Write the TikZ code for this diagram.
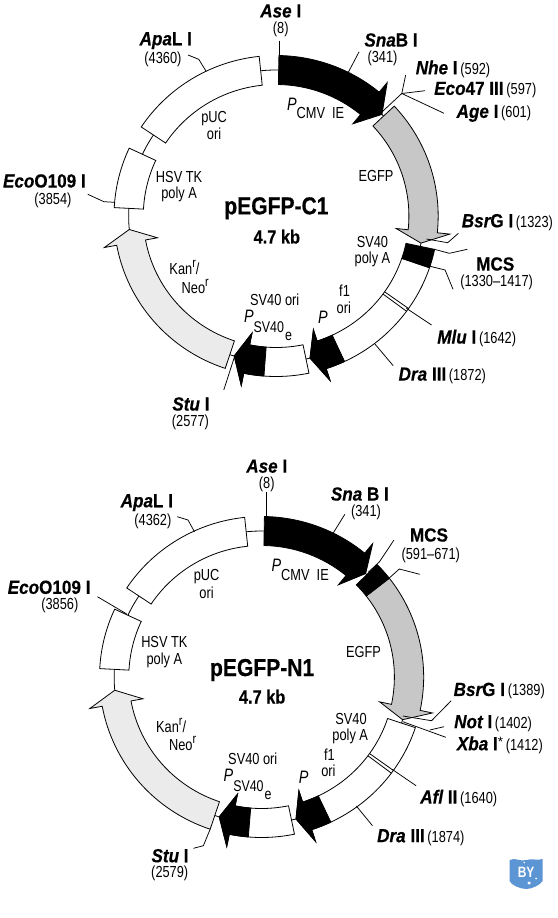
\documentclass[tikz,border=0pt]{standalone}
\usepackage{fontspec}
\setmainfont{Liberation Sans}
\newfontfamily\smf[FakeStretch=.8]{Liberation Sans}
\newfontfamily\bdf[FakeStretch=.9,FakeBold=0.4]{Liberation Sans}
\newfontfamily\ttlf[FakeStretch=.86,FakeBold=0.5]{Liberation Sans}
\newcommand\numf{\smf\fontsize{16}{16}\selectfont}
\newcommand\sitef{\bdf\fontsize{19}{19}\selectfont\bfseries}
\newcommand\subf{\smf\fontsize{15.5}{15.5}\selectfont}
\newcommand\pf{\smf\fontsize{18}{18}\selectfont\itshape}
\newcommand\rsite[2]{{\sitef{\itshape #1}#2}}
\newcommand\supr[1]{\raisebox{.42em}{\fontsize{13.5}{13.5}\selectfont #1}}
\newcommand\rin{131.5}
\newcommand\rout{160.5}
\newcommand\rmid{146}
\newcommand\wi{119.5}
\newcommand\wo{173}
% plain band: from angle #1 to angle #2, fill #3
\newcommand\bandseg[3]{\filldraw[fill=#3,ring] (#1:\rout) arc[start angle=#1,end angle=#2,radius=\rout] -- (#2:\rin) arc[start angle=#2,end angle=#1,radius=\rin] -- cycle;}
% arrow: tail #1, head base #2, tip #3, fill #4
\newcommand\arrowseg[4]{\filldraw[fill=#4,ring] (#1:\rout) arc[start angle=#1,end angle=#2,radius=\rout] -- (#2:\wo) -- (#3:\rmid) -- (#2:\wi) -- (#2:\rin) arc[start angle=#2,end angle=#1,radius=\rin] -- cycle;}
\tikzset{
  ring/.style={draw=black,line width=0.8pt,line join=miter},
  lead/.style={draw=black,line width=0.75pt},
  lab/.style={font=\numf,inner sep=0pt,text=black,align=center},
  sitelab/.style={inner sep=0pt,text=black},
  pitalic/.style={inner sep=0pt,text=black,font=\pf},
  promoter/.style={inner sep=0pt,text=black,anchor=base west},
  title/.style={inner sep=0pt,font=\ttlf\fontsize{24.5}{24.5}\selectfont\bfseries},
  sizelab/.style={inner sep=0pt,font=\ttlf\fontsize{19}{19}\selectfont\bfseries},
}
\begin{document}
\begin{tikzpicture}[x=1.0743pt,y=1pt]
\useasboundingbox (0,0) rectangle (519.4,-918);
\fill[white] (0,0) rectangle (519.4,-918);
% ---------------- pEGFP-C1 ----------------
\begin{scope}[shift={(257,-216)},xscale=.94]
 \draw[ring] (0,0) circle[radius=\rmid];
 \bandseg{96}{146.3}{white}
 \bandseg{155}{177}{white}
 \arrowseg{251.7}{190.5}{185.3}{black!8}
 \arrowseg{281.7}{258.5}{253.5}{white}
 \filldraw[fill=black,ring] (265.7:\rout) arc[start angle=265.7,end angle=258.5,radius=\rout] -- (258.5:\wo) -- (253.5:\rmid) -- (258.5:\wi) -- (258.5:\rin) arc[start angle=258.5,end angle=265.7,radius=\rin] -- cycle;
 \arrowseg{341.2}{288}{283.3}{white}
 \filldraw[fill=black,ring] (295:\rout) arc[start angle=295,end angle=288,radius=\rout] -- (288:\wo) -- (283.3:\rmid) -- (288:\wi) -- (288:\rin) arc[start angle=288,end angle=295,radius=\rin] -- cycle;
 \bandseg{341.2}{348}{black}
 \arrowseg{43.2}{-6}{-10.7}{black!22}
 \arrowseg{89}{50.5}{44.1}{black}
 \draw[ring] (323.6:\rin) -- (323.6:\rout);
 \draw[ring] (324.8:\rin) -- (324.8:\rout);
\end{scope}
% restriction-site leaders, C1
\coordinate (c1) at (259.7,-40.7); \coordinate (c2) at (259.7,-56);
\draw[lead] (c1) -- (c2);
\coordinate (c3) at (334.3,-51.7); \coordinate (c4) at (324,-72.7);
\draw[lead] (c3) -- (c4);
\coordinate (hub) at (374,-93.5); \coordinate (hubb) at (354,-113.5);
\coordinate (nhe) at (377.6,-75); \coordinate (eco) at (395.6,-90.7); \coordinate (age) at (413.3,-113.3);
\draw[lead] (hubb) -- (hub) -- (nhe); \draw[lead] (hub) -- (eco); \draw[lead] (hub) -- (age);
\coordinate (c5) at (175,-55); \coordinate (c6) at (185,-59.3); \coordinate (c7) at (191.7,-71);
\draw[lead] (c5) -- (c6) -- (c7);
\coordinate (c8) at (81.7,-194.3); \coordinate (c9) at (96.7,-201.7); \coordinate (c10) at (106.7,-202.3);
\draw[lead] (c8) -- (c9) -- (c10);
\coordinate (c11) at (426.7,-233.3); \coordinate (c12) at (416.7,-242.7); \coordinate (c13) at (397,-239);
\draw[lead] (c11) -- (c12) -- (c13);
\coordinate (c14) at (435,-249.3); \coordinate (c15) at (418.3,-253.3); \coordinate (c16) at (404.3,-249.3);
\draw[lead] (c14) -- (c15) -- (c16);
\coordinate (c17) at (421.7,-289.3); \coordinate (c18) at (414.3,-270); \coordinate (c19) at (399.3,-266);
\draw[lead] (c17) -- (c18) -- (c19);
\coordinate (c20) at (401.7,-325); \coordinate (c21) at (378.3,-308.3);
\draw[lead] (c20) -- (c21);
\coordinate (c22) at (366,-365.7); \coordinate (c23) at (349,-344);
\draw[lead] (c22) -- (c23);
\coordinate (c24) at (208.3,-390); \coordinate (c25) at (218.3,-356.7);
\draw[lead] (c24) -- (c25);
% site labels, C1
\node[sitelab] (tAse) at (261.3,-11) {\rsite{Ase}{ I}};
\node[lab] (nAse) at (261.3,-29.8) {(8)};
\node[sitelab] (tApa) at (154.3,-40.7) {\rsite{Apa}{L I}};
\node[lab] (nApa) at (151.7,-59.5) {(4360)};
\node[sitelab] (tSna) at (364,-40) {\rsite{Sna}{B I}};
\node[lab] (nSna) at (356,-58.8) {(341)};
\node[sitelab] (tNhe) at (421.7,-69) {\rsite{Nhe}{ I} {\numf (592)}};
\node[sitelab] (tEco) at (451.7,-90) {\rsite{Eco}{47 III} {\numf (597)}};
\node[sitelab] (tAge) at (459.7,-113.3) {\rsite{Age}{ I} {\numf (601)}};
\node[sitelab] (tEO) at (41.3,-181) {\rsite{Eco}{O109 I}};
\node[lab] (nEO) at (49.3,-200) {(3854)};
\node[sitelab] (tBsr) at (472.3,-222.3) {\rsite{Bsr}{G I} {\numf (1323)}};
\node[sitelab] (tMCS) at (461,-264) {\rsite{}{MCS}};
\node[lab] (nMCS) at (462.3,-282) {(1330–1417)};
\node[sitelab] (tMlu) at (443.7,-338.3) {\rsite{Mlu}{ I} {\numf (1642)}};
\node[sitelab] (tDra) at (411.7,-375.7) {\rsite{Dra}{ III} {\numf (1872)}};
\node[sitelab] (tStu) at (177.7,-404) {\rsite{Stu}{ I}};
\node[lab] (nStu) at (177.3,-422.8) {(2577)};
% feature labels, C1
\node[lab] (pUC) at (199.3,-118.3) {pUC};
\node[lab] (ori) at (199.3,-133.5) {ori};
\node[lab] (hsv) at (166.7,-176.7) {HSV TK};
\node[lab] (pa) at (166.7,-194) {poly A};
\node[lab] (egfp) at (350,-175.7) {EGFP};
\node[promoter] (pc) at (267,-110) {{\pf P}\raisebox{-8.5pt}{\numf CMV\ \ IE}};
\node[title] (name) at (257.3,-208.3) {pEGFP-C1};
\node[sizelab] (size) at (257.7,-236.7) {4.7 kb};
\node[lab] (sv) at (346.7,-242.3) {SV40};
\node[lab] (svp) at (346.7,-259) {poly A};
\node[lab] (f1) at (320.7,-290.7) {f1};
\node[lab] (f1o) at (320,-307.3) {ori};
\node[pitalic] (pp) at (300.7,-317.3) {P};
\node[lab] (svo) at (255.7,-300) {SV40 ori};
\node[promoter] (ps) at (227,-322.5) {{\pf P}\raisebox{-9.5pt}{\subf SV40}\hspace{1pt}\raisebox{-18pt}{\subf e}};
\node[lab] (kan) at (171.7,-267.7) {Kan\supr{r}/};
\node[lab] (neo) at (181.7,-286.7) {Neo\supr{r}};
% ---------------- pEGFP-N1 ----------------
\begin{scope}[shift={(243.5,-677)},xscale=.94]
 \draw[ring] (0,0) circle[radius=\rmid];
 \bandseg{96}{146.3}{white}
 \bandseg{155}{177}{white}
 \arrowseg{251.5}{190.5}{185.2}{black!8}
 \arrowseg{281.7}{258.5}{253.3}{white}
 \filldraw[fill=black,ring] (265.3:\rout) arc[start angle=265.3,end angle=258.5,radius=\rout] -- (258.5:\wo) -- (253.3:\rmid) -- (258.5:\wi) -- (258.5:\rin) arc[start angle=258.5,end angle=265.3,radius=\rin] -- cycle;
 \arrowseg{341.6}{288}{283.5}{white}
 \filldraw[fill=black,ring] (295.3:\rout) arc[start angle=295.3,end angle=288,radius=\rout] -- (288:\wo) -- (283.5:\rmid) -- (288:\wi) -- (288:\rin) arc[start angle=288,end angle=295.3,radius=\rin] -- cycle;
 \arrowseg{38}{-12}{-17}{black!22}
 \bandseg{38}{44.5}{black}
 \arrowseg{89}{50.5}{45.1}{black}
 \draw[ring] (323.2:\rin) -- (323.2:\rout);
 \draw[ring] (324.4:\rin) -- (324.4:\rout);
\end{scope}
% restriction-site leaders, N1
\coordinate (d1) at (248.3,-491.7); \coordinate (d2) at (248.3,-518);
\draw[lead] (d1) -- (d2);
\coordinate (d3) at (321,-514.3); \coordinate (d4) at (310,-533.3);
\draw[lead] (d3) -- (d4);
\coordinate (d5) at (165,-516.7); \coordinate (d6) at (175,-520); \coordinate (d7) at (181,-531.7);
\draw[lead] (d5) -- (d6) -- (d7);
\coordinate (d8) at (90.7,-596.7); \coordinate (d9) at (118,-614);
\draw[lead] (d8) -- (d9);
\coordinate (d10) at (366.7,-540); \coordinate (d11) at (353.3,-561.7); \coordinate (d12) at (343,-572);
\draw[lead] (d10) -- (d11) -- (d12);
\coordinate (d13) at (390.7,-574.3); \coordinate (d14) at (371.7,-569); \coordinate (d15) at (361,-579.3);
\draw[lead] (d13) -- (d14) -- (d15);
\coordinate (d16) at (420,-700.7); \coordinate (d17) at (401.7,-720.7); \coordinate (d18) at (375,-716);
\draw[lead] (d16) -- (d17) -- (d18);
\coordinate (d19) at (375,-721.7); \coordinate (d20) at (415,-737.3); \coordinate (d21) at (413.3,-726.7); \coordinate (d22) at (400,-730);
\draw[lead] (d19) -- (d20); \draw[lead] (d21) -- (d22);
\coordinate (d23) at (387.3,-785.7); \coordinate (d24) at (365,-769.3);
\draw[lead] (d23) -- (d24);
\coordinate (d25) at (346.7,-825.7); \coordinate (d26) at (331.7,-806);
\draw[lead] (d25) -- (d26);
\coordinate (d27) at (180,-848.3); \coordinate (d28) at (189.3,-845.7); \coordinate (d29) at (195.7,-829);
\draw[lead] (d27) -- (d28) -- (d29);
% site labels, N1
\node[sitelab] (uAse) at (248.3,-466.2) {\rsite{Ase}{ I}};
\node[lab] (mAse) at (248.3,-484.8) {(8)};
\node[sitelab] (uApa) at (136.7,-502.7) {\rsite{Apa}{L I}};
\node[lab] (mApa) at (142.3,-521) {(4362)};
\node[sitelab] (uSna) at (335,-494) {\rsite{Sna}{ B I}};
\node[lab] (mSna) at (340.7,-512.8) {(341)};
\node[sitelab] (uMCS) at (399.3,-535) {\rsite{}{MCS}};
\node[lab] (mMCS) at (401,-555.7) {(591–671)};
\node[sitelab] (uEO) at (45.7,-587.3) {\rsite{Eco}{O109 I}};
\node[lab] (mEO) at (55.7,-605.5) {(3856)};
\node[sitelab] (uBsr) at (464.7,-691) {\rsite{Bsr}{G I} {\numf (1389)}};
\node[sitelab] (uNot) at (459,-723.3) {\rsite{Not}{ I} {\numf (1402)}};
\node[sitelab] (uXba) at (465.3,-745) {\rsite{Xba}{ I}\supr{*} {\numf (1412)}};
\node[sitelab] (uAfl) at (427,-798.3) {\rsite{Afl}{ II} {\numf (1640)}};
\node[sitelab] (uDra) at (391.7,-837.3) {\rsite{Dra}{ III} {\numf (1874)}};
\node[sitelab] (uStu) at (158.3,-855.7) {\rsite{Stu}{ I}};
\node[lab] (mStu) at (158,-873.8) {(2579)};
% feature labels, N1
\node[lab] (pUCb) at (192.3,-577) {pUC};
\node[lab] (orib) at (192.3,-592.8) {ori};
\node[lab] (hsvb) at (153,-642.3) {HSV TK};
\node[lab] (pab) at (153,-660) {poly A};
\node[lab] (egfpb) at (338.3,-652.3) {EGFP};
\node[promoter] (pcb) at (252.6,-571.5) {{\pf P}\raisebox{-8.5pt}{\numf CMV\ \ IE}};
\node[title] (nameb) at (244,-670) {pEGFP-N1};
\node[sizelab] (sizeb) at (244,-696.7) {4.7 kb};
\node[lab] (svb) at (326.7,-719.3) {SV40};
\node[lab] (svpb) at (326,-736) {poly A};
\node[lab] (f1b) at (306.7,-755.2) {f1};
\node[lab] (f1ob) at (305.7,-771) {ori};
\node[pitalic] (ppb) at (282.7,-777.7) {P};
\node[lab] (svob) at (235.3,-759) {SV40 ori};
\node[promoter] (psb) at (208,-781.5) {{\pf P}\raisebox{-9.5pt}{\subf SV40}\hspace{1pt}\raisebox{-17.5pt}{\subf e}};
\node[lab] (kanb) at (159.3,-725.7) {Kan\supr{r}/};
\node[lab] (neob) at (170,-743.3) {Neo\supr{r}};
% watermark
\definecolor{wmblue}{HTML}{5B95D3}
\fill[wmblue] (474.3,-860) .. controls (480,-857) and (484,-862) .. (490,-860) .. controls (496,-858) and (500,-861) .. (505,-859) -- (505,-881) .. controls (503,-885) and (495,-889) .. (490,-889) .. controls (484,-889) and (476,-885) .. (474.3,-881) -- cycle;
\node[inner sep=0pt,text=white,font=\smf\fontsize{15}{15}\selectfont\bfseries] (wm) at (489.7,-872) {BY};
\fill[white] (488,-862.5) circle[radius=.8] (499,-878.5) circle[radius=1] (492.5,-883) circle[radius=1.6];
\end{tikzpicture}
\end{document}
